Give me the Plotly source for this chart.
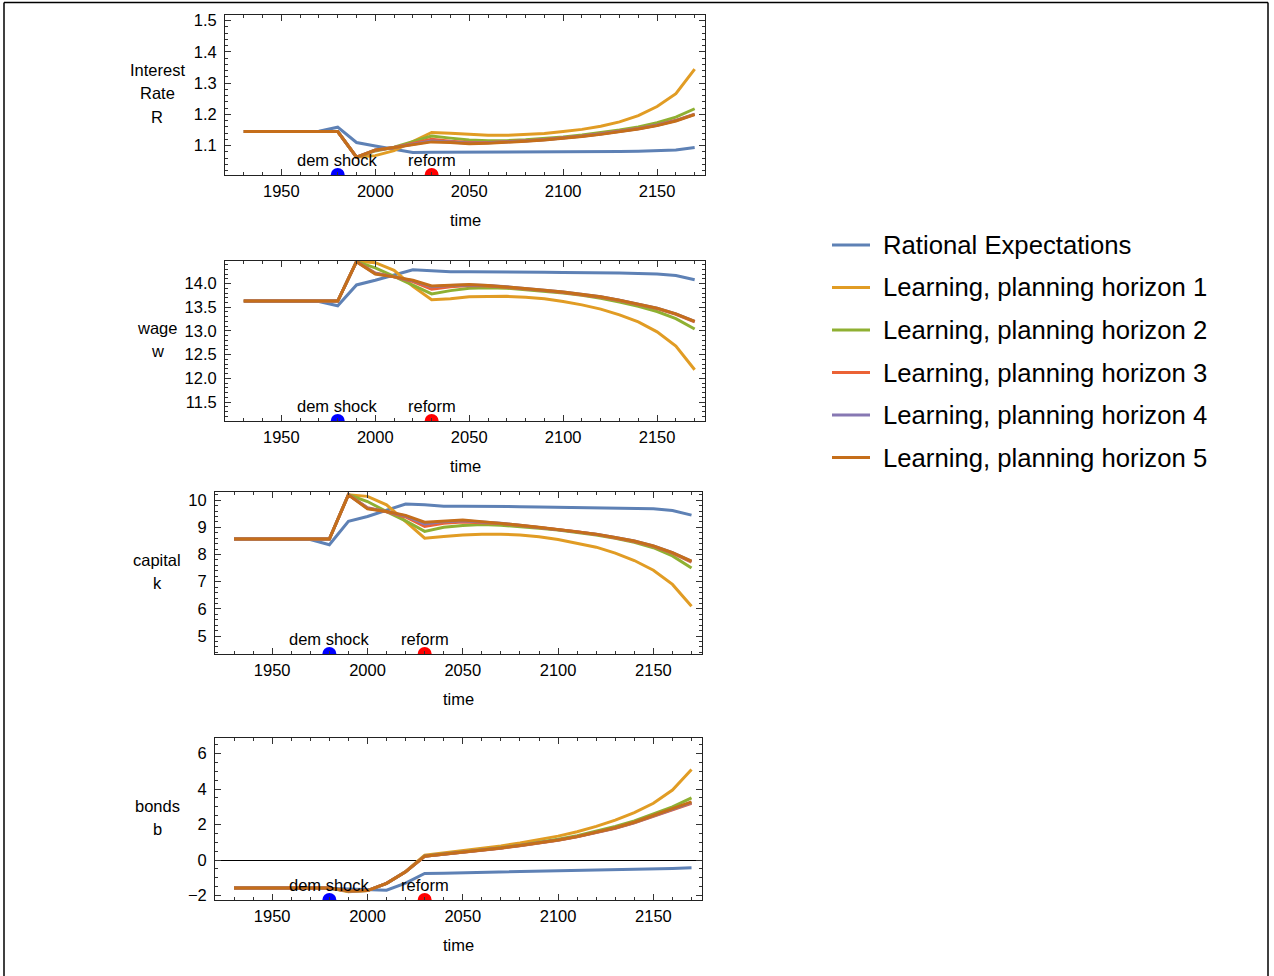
import plotly.graph_objects as go

W, H = 1274, 976

years = [1930, 1940, 1950, 1960, 1970, 1980, 1990, 2000, 2010, 2020, 2030, 2040, 2050,
         2060, 2070, 2080, 2090, 2100, 2110, 2120, 2130, 2140, 2150, 2160, 2170]

series_names = ["Rational Expectations", "Learning, planning horizon 1", "Learning, planning horizon 2",
                "Learning, planning horizon 3", "Learning, planning horizon 4", "Learning, planning horizon 5"]
series_colors = ["#5E81B5", "#E19C24", "#8FB032", "#EB6235", "#8778B3", "#C56E1A"]

# Interest rate R
R_re = [1.145, 1.145, 1.145, 1.145, 1.146, 1.159, 1.110, 1.099, 1.088, 1.078, 1.079, 1.079, 1.079,
        1.079, 1.079, 1.080, 1.080, 1.080, 1.081, 1.081, 1.081, 1.082, 1.083, 1.086, 1.094]
R_h1 = [1.145, 1.145, 1.145, 1.145, 1.145, 1.145, 1.063, 1.068, 1.084, 1.113, 1.142, 1.140, 1.136,
        1.133, 1.133, 1.135, 1.139, 1.145, 1.152, 1.162, 1.176, 1.196, 1.225, 1.266, 1.345]
R_h2 = [1.145, 1.145, 1.145, 1.145, 1.145, 1.145, 1.063, 1.083, 1.095, 1.113, 1.131, 1.124, 1.118,
        1.116, 1.116, 1.119, 1.123, 1.128, 1.134, 1.141, 1.150, 1.160, 1.173, 1.191, 1.218]
R_h3 = [1.145, 1.145, 1.145, 1.145, 1.145, 1.145, 1.063, 1.085, 1.094, 1.106, 1.120, 1.114, 1.110,
        1.110, 1.112, 1.116, 1.120, 1.125, 1.131, 1.138, 1.146, 1.155, 1.166, 1.181, 1.201]
R_h4 = [1.145, 1.145, 1.145, 1.145, 1.145, 1.145, 1.063, 1.086, 1.094, 1.105, 1.115, 1.112, 1.108,
        1.109, 1.111, 1.115, 1.119, 1.124, 1.130, 1.137, 1.145, 1.154, 1.165, 1.180, 1.200]
R_h5 = [1.145, 1.145, 1.145, 1.145, 1.145, 1.145, 1.063, 1.086, 1.094, 1.104, 1.112, 1.110, 1.106,
        1.108, 1.110, 1.114, 1.118, 1.123, 1.129, 1.136, 1.144, 1.153, 1.164, 1.179, 1.199]

# wage w
w_re = [13.63, 13.63, 13.63, 13.63, 13.62, 13.53, 13.97, 14.07, 14.18, 14.29, 14.27, 14.25, 14.25,
        14.25, 14.25, 14.24, 14.24, 14.23, 14.23, 14.22, 14.22, 14.21, 14.20, 14.17, 14.08]
w_h1 = [13.63, 13.63, 13.63, 13.63, 13.63, 13.63, 14.47, 14.44, 14.28, 13.94, 13.66, 13.68, 13.72,
        13.73, 13.73, 13.71, 13.68, 13.62, 13.55, 13.46, 13.34, 13.19, 12.98, 12.68, 12.18]
w_h2 = [13.63, 13.63, 13.63, 13.63, 13.63, 13.63, 14.46, 14.33, 14.15, 13.97, 13.78, 13.85, 13.90,
        13.91, 13.90, 13.87, 13.84, 13.80, 13.75, 13.69, 13.61, 13.52, 13.41, 13.26, 13.04]
w_h3 = [13.63, 13.63, 13.63, 13.63, 13.63, 13.63, 14.46, 14.22, 14.14, 14.04, 13.88, 13.93, 13.96,
        13.95, 13.92, 13.89, 13.85, 13.81, 13.76, 13.71, 13.64, 13.56, 13.47, 13.35, 13.19]
w_h4 = [13.63, 13.63, 13.63, 13.63, 13.63, 13.63, 14.46, 14.21, 14.14, 14.06, 13.93, 13.96, 13.97,
        13.96, 13.93, 13.90, 13.86, 13.82, 13.77, 13.72, 13.65, 13.57, 13.48, 13.36, 13.20]
w_h5 = [13.63, 13.63, 13.63, 13.63, 13.63, 13.63, 14.46, 14.20, 14.14, 14.07, 13.95, 13.97, 13.98,
        13.96, 13.93, 13.90, 13.86, 13.82, 13.77, 13.72, 13.65, 13.57, 13.48, 13.36, 13.20]

# capital k
k_re = [8.57, 8.57, 8.57, 8.57, 8.55, 8.36, 9.22, 9.40, 9.64, 9.86, 9.83, 9.78, 9.78,
        9.78, 9.77, 9.76, 9.75, 9.74, 9.73, 9.72, 9.72, 9.71, 9.68, 9.62, 9.45]
k_h1 = [8.57, 8.57, 8.57, 8.57, 8.57, 8.57, 10.20, 10.14, 9.83, 9.22, 8.60, 8.66, 8.72,
        8.75, 8.75, 8.72, 8.65, 8.55, 8.42, 8.27, 8.05, 7.78, 7.42, 6.90, 6.10]
k_h2 = [8.57, 8.57, 8.57, 8.57, 8.57, 8.57, 10.20, 9.95, 9.58, 9.24, 8.85, 9.00, 9.07,
        9.10, 9.08, 9.03, 8.97, 8.90, 8.82, 8.72, 8.60, 8.45, 8.25, 7.95, 7.50]
k_h3 = [8.57, 8.57, 8.57, 8.57, 8.57, 8.57, 10.20, 9.72, 9.57, 9.38, 9.03, 9.15, 9.20,
        9.18, 9.14, 9.07, 9.00, 8.92, 8.84, 8.74, 8.62, 8.48, 8.30, 8.05, 7.72]
k_h4 = [8.57, 8.57, 8.57, 8.57, 8.57, 8.57, 10.20, 9.70, 9.58, 9.42, 9.12, 9.21, 9.24,
        9.20, 9.15, 9.08, 9.00, 8.92, 8.85, 8.75, 8.63, 8.50, 8.32, 8.07, 7.75]
k_h5 = [8.57, 8.57, 8.57, 8.57, 8.57, 8.57, 10.20, 9.68, 9.58, 9.44, 9.19, 9.24, 9.27,
        9.21, 9.15, 9.08, 9.00, 8.92, 8.85, 8.75, 8.63, 8.50, 8.32, 8.07, 7.76]

# bonds b
b_re = [-1.57, -1.57, -1.57, -1.57, -1.57, -1.60, -1.63, -1.68, -1.70, -1.30, -0.75, -0.74, -0.72,
        -0.70, -0.68, -0.67, -0.65, -0.63, -0.61, -0.59, -0.56, -0.53, -0.50, -0.47, -0.43]
b_h1 = [-1.57, -1.57, -1.57, -1.57, -1.57, -1.58, -1.78, -1.72, -1.32, -0.64, 0.28, 0.40, 0.52,
        0.65, 0.80, 0.96, 1.14, 1.35, 1.60, 1.90, 2.25, 2.68, 3.20, 3.95, 5.10]
b_h2 = [-1.57, -1.57, -1.57, -1.57, -1.57, -1.58, -1.75, -1.72, -1.31, -0.66, 0.23, 0.34, 0.45,
        0.57, 0.70, 0.84, 1.00, 1.17, 1.37, 1.61, 1.89, 2.21, 2.60, 3.00, 3.50]
b_h3 = [-1.57, -1.57, -1.57, -1.57, -1.57, -1.58, -1.74, -1.72, -1.31, -0.66, 0.21, 0.32, 0.43,
        0.55, 0.67, 0.81, 0.96, 1.12, 1.31, 1.53, 1.79, 2.10, 2.46, 2.84, 3.20]
b_h4 = [-1.57, -1.57, -1.57, -1.57, -1.57, -1.58, -1.74, -1.72, -1.31, -0.66, 0.22, 0.33, 0.44,
        0.56, 0.68, 0.82, 0.97, 1.13, 1.32, 1.55, 1.81, 2.12, 2.48, 2.87, 3.24]
b_h5 = [-1.57, -1.57, -1.57, -1.57, -1.57, -1.58, -1.74, -1.72, -1.31, -0.66, 0.22, 0.33, 0.44,
        0.56, 0.68, 0.82, 0.97, 1.13, 1.32, 1.55, 1.82, 2.13, 2.50, 2.90, 3.28]

event_years = [1980, 2030]
event_labels = ["dem shock", "reform"]
event_colors = ["#0000FF", "#FF0000"]

x_ticks = [1950, 2000, 2050, 2100, 2150]
x_range = [1920, 2175.5]

panels = [
    dict(series=[R_re, R_h1, R_h2, R_h3, R_h4, R_h5], label=["Interest", "Rate", "R"],
         box=(225, 705, 15, 175), yrange=[1.006, 1.518], ytick=[1.1, 1.2, 1.3, 1.4, 1.5],
         yfmt=".1f", yminor=0.02, xlab_y=220),
    dict(series=[w_re, w_h1, w_h2, w_h3, w_h4, w_h5], label=["wage", "w"],
         box=(225, 705, 261, 421), yrange=[11.10, 14.475], ytick=[11.5, 12.0, 12.5, 13.0, 13.5, 14.0],
         yfmt=".1f", yminor=0.1, xlab_y=466),
    dict(series=[k_re, k_h1, k_h2, k_h3, k_h4, k_h5], label=["capital", "k"],
         box=(215, 702, 492, 654), yrange=[4.34, 10.30], ytick=[5, 6, 7, 8, 9, 10],
         yfmt="d", yminor=0.2, xlab_y=699),
    dict(series=[b_re, b_h1, b_h2, b_h3, b_h4, b_h5], label=["bonds", "b"],
         box=(215, 702, 738, 900), yrange=[-2.25, 6.88], ytick=[-2, 0, 2, 4, 6],
         yfmt="d", yminor=0.5, xlab_y=945),
]

FONT = "Liberation Sans, Arial, sans-serif"
TF = 16.5

fig = go.Figure()
annotations = []
shapes = []
layout = {}

def px_x(p):
    return p / W

def px_y(p):
    return 1 - p / H

for i, pan in enumerate(panels):
    n = i + 1
    xa = "x" if n == 1 else f"x{n}"
    ya = "y" if n == 1 else f"y{n}"
    xl, xr, yt, yb = pan["box"]
    for s, name, col in zip(pan["series"], series_names, series_colors):
        fig.add_trace(go.Scatter(x=years, y=s, mode="lines", name=name,
                                 line=dict(color=col, width=3), xaxis=xa, yaxis=ya,
                                 showlegend=False))
    ymin = pan["yrange"][0]
    fig.add_trace(go.Scatter(x=event_years, y=[ymin, ymin], mode="markers",
                             marker=dict(color=event_colors, size=14), cliponaxis=True,
                             xaxis=xa, yaxis=ya, showlegend=False))
    for ey, el in zip(event_years, event_labels):
        annotations.append(dict(x=ey, y=ymin, xref=xa, yref=ya, text=el, showarrow=False,
                                yanchor="middle", xanchor="center", yshift=15,
                                font=dict(size=TF, color="black", family=FONT)))
    common = dict(showline=True, linecolor="#222", linewidth=1, mirror="allticks",
                  ticks="inside", ticklen=6, tickcolor="#333", tickwidth=1, automargin=False,
                  showgrid=False, tickfont=dict(size=TF, color="black", family=FONT))
    layout["xaxis" if n == 1 else f"xaxis{n}"] = dict(
        domain=[px_x(xl), px_x(xr)], range=x_range, tickvals=x_ticks,
        anchor=ya, zeroline=False, ticklabelstandoff=1,
        minor=dict(ticks="inside", dtick=10, tick0=1930, ticklen=3, tickcolor="#333", showgrid=False),
        **common)
    layout["yaxis" if n == 1 else f"yaxis{n}"] = dict(
        domain=[px_y(yb), px_y(yt)], range=pan["yrange"], tickvals=pan["ytick"],
        tickformat=pan["yfmt"], anchor=xa, zeroline=(n == 4), zerolinecolor="black",
        zerolinewidth=1, ticklabelstandoff=4,
        minor=dict(ticks="inside", dtick=pan["yminor"], tick0=0, ticklen=3, tickcolor="#333", showgrid=False),
        **common)
    # y label lines
    cy = (yt + yb) / 2 - 1.5
    nl = len(pan["label"])
    for j, txt in enumerate(pan["label"]):
        yy = cy + (j - (nl - 1) / 2) * 23.5
        annotations.append(dict(x=px_x(157), y=px_y(yy), xref="paper", yref="paper", text=txt,
                                showarrow=False, xanchor="center", yanchor="middle",
                                font=dict(size=TF, color="black", family=FONT)))
    # x label
    annotations.append(dict(x=px_x((xl + xr) / 2), y=px_y(pan["xlab_y"]), xref="paper", yref="paper",
                            text="time", showarrow=False, xanchor="center", yanchor="middle",
                            font=dict(size=TF, color="black", family=FONT)))

# legend (drawn manually)
leg_y = [245, 287.5, 330, 372.5, 415, 457.5]
for name, col, ly in zip(series_names, series_colors, leg_y):
    shapes.append(dict(type="line", xref="paper", yref="paper", x0=px_x(832), x1=px_x(870),
                       y0=px_y(ly), y1=px_y(ly), line=dict(color=col, width=3)))
    annotations.append(dict(x=px_x(884), y=px_y(ly), xref="paper", yref="paper", text=name,
                            showarrow=False, xanchor="left", yanchor="middle", xshift=-3,
                            font=dict(size=25.7, color="black", family=FONT)))

# outer border
shapes.append(dict(type="line", xref="paper", yref="paper", x0=px_x(4), x1=px_x(1268),
                   y0=px_y(2.5), y1=px_y(2.5), line=dict(color="black", width=1.5)))
shapes.append(dict(type="line", xref="paper", yref="paper", x0=px_x(4), x1=px_x(4),
                   y0=0, y1=px_y(2.5), line=dict(color="black", width=1.5)))
shapes.append(dict(type="line", xref="paper", yref="paper", x0=px_x(1268), x1=px_x(1268),
                   y0=0, y1=px_y(2.5), line=dict(color="black", width=1.5)))

fig.update_layout(width=W, height=H, margin=dict(l=0, r=0, t=0, b=0, autoexpand=False),
                  paper_bgcolor="white", plot_bgcolor="white", showlegend=False,
                  annotations=annotations, shapes=shapes,
                  font=dict(family=FONT, color="black"), **layout)

fig.write_html("out.html")
